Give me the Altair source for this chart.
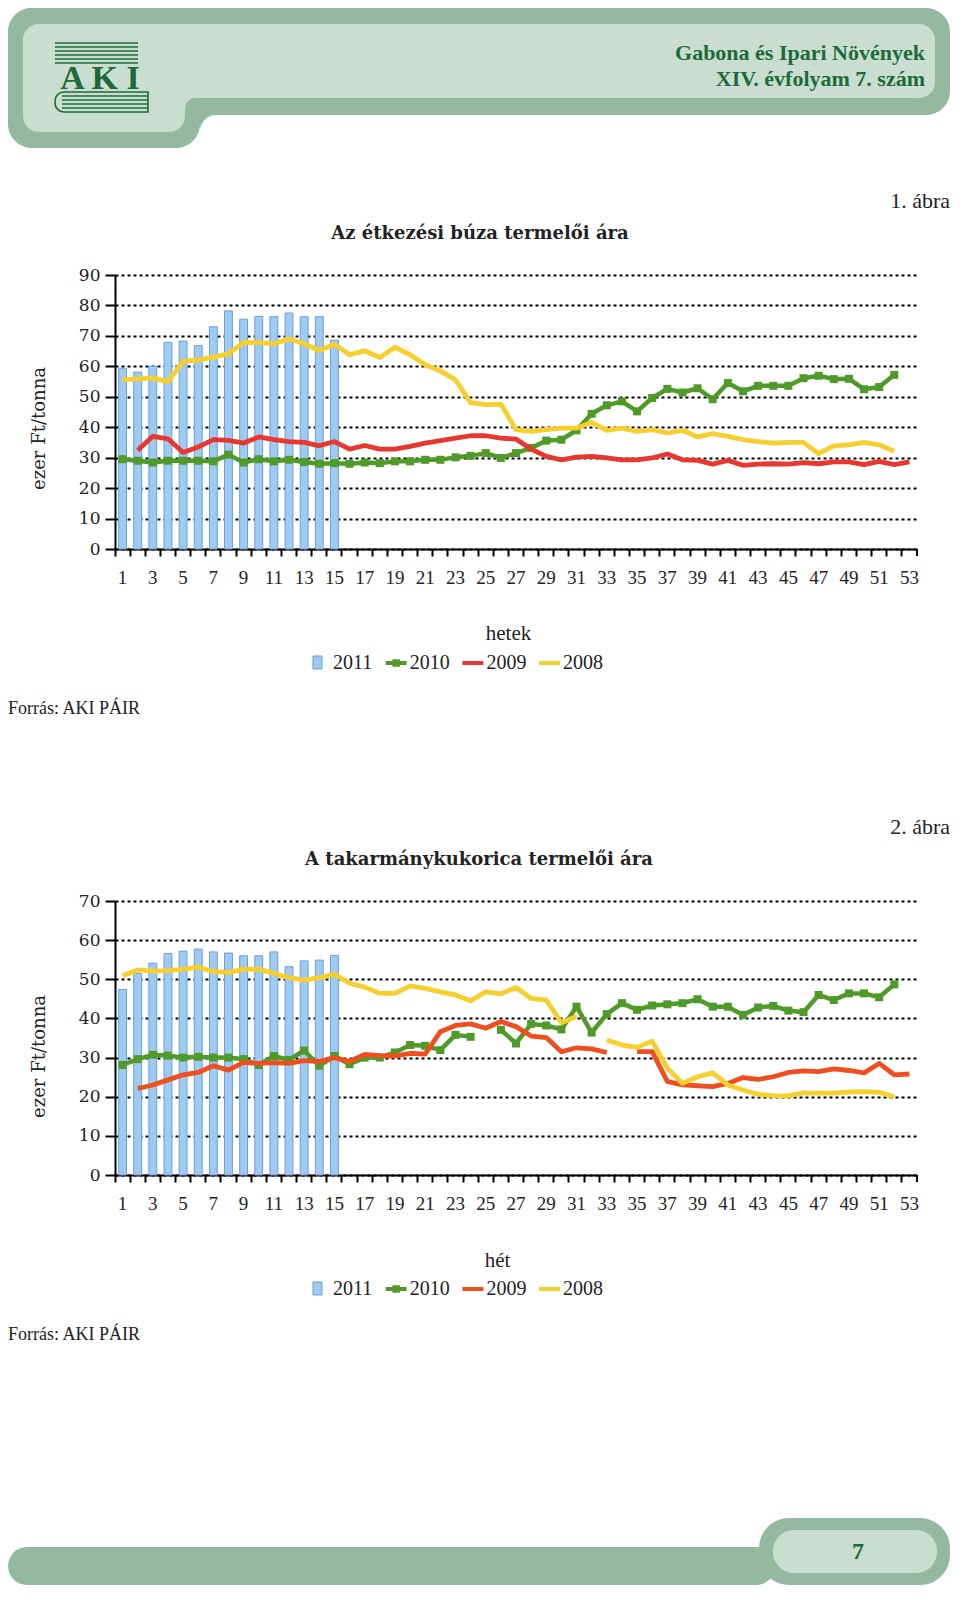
import altair as alt
import pandas as pd

WEEKS = list(range(1, 54))
LEGEND_LABELS = ["2011", "2010", "2009", "2008"]

# --- Chart 1: Az étkezési búza termelői ára (ezer Ft/tonna) ---
wheat_2011 = [59.4, 58.1, 60.0, 67.9, 68.3, 66.8, 73.0, 78.2, 75.5, 76.4, 76.3, 77.5, 76.3, 76.3, 68.6]
wheat_2010 = [29.5, 29.0, 28.4, 29.0, 29.0, 29.0, 28.8, 31.0, 28.4, 29.5,
              28.8, 29.3, 28.6, 28.0, 28.2, 28.0, 28.4, 28.2, 28.8, 28.8,
              29.3, 29.3, 30.1, 30.6, 31.5, 29.9, 31.5, 33.2, 35.6, 35.9,
              39.0, 44.4, 47.2, 48.5, 45.2, 49.6, 52.6, 51.4, 52.8, 49.2,
              54.5, 51.8, 53.6, 53.6, 53.6, 56.1, 56.9, 55.8, 55.9, 52.5,
              53.2, 57.2]
wheat_2009 = [None, 32.4, 37.0, 36.2, 31.7, 33.5, 35.9, 35.7, 34.8, 36.8,
              35.9, 35.3, 35.0, 33.9, 35.3, 32.8, 34.0, 32.8, 32.8, 33.7,
              34.8, 35.6, 36.4, 37.2, 37.2, 36.4, 36.1, 32.8, 30.4, 29.3,
              30.2, 30.4, 29.9, 29.3, 29.3, 29.9, 31.2, 29.3, 29.1, 27.9,
              29.1, 27.5, 27.9, 28.0, 27.9, 28.4, 28.0, 28.6, 28.6, 27.7,
              28.8, 27.7, 28.6]
wheat_2008 = [55.6, 55.9, 56.1, 55.0, 61.6, 62.1, 63.0, 64.1, 67.9, 67.8,
              67.4, 69.0, 67.4, 65.2, 67.3, 63.8, 65.1, 62.9, 66.3, 63.8,
              60.5, 58.5, 55.6, 48.1, 47.4, 47.6, 39.2, 38.6, 39.2, 39.7,
              39.7, 41.6, 39.0, 39.7, 38.6, 39.2, 38.1, 39.0, 36.8, 37.9,
              37.0, 35.9, 35.3, 34.8, 35.0, 35.0, 31.3, 33.9, 34.2, 35.0,
              34.2, 32.1]

# --- Chart 2: A takarmánykukorica termelői ára (ezer Ft/tonna) ---
corn_2011 = [47.4, 51.5, 54.1, 56.6, 57.2, 57.7, 57.0, 56.7, 56.0, 56.0, 57.0, 53.2, 54.7, 54.9, 56.1]
corn_2010 = [28.1, 29.6, 30.7, 30.5, 30.0, 30.2, 30.0, 30.0, 29.6, 28.1,
             30.4, 29.4, 31.8, 27.9, 30.4, 28.3, 30.0, 30.0, 31.3, 33.2,
             33.0, 31.9, 35.8, 35.3, None, 37.1, 33.6, 38.6, 38.2, 37.2,
             43.0, 36.4, 41.1, 43.9, 42.2, 43.3, 43.6, 43.9, 44.9, 43.0,
             43.0, 40.9, 42.8, 43.2, 42.0, 41.6, 46.0, 44.7, 46.4, 46.4,
             45.4, 48.7]
corn_2009 = [None, 22.1, 23.0, 24.3, 25.6, 26.2, 27.9, 26.8, 28.8, 28.5,
             28.7, 28.5, 29.2, 29.0, 30.0, 29.0, 30.8, 30.5, 30.4, 31.1,
             30.9, 36.6, 38.2, 38.6, 37.5, 39.2, 37.9, 35.5, 35.1, 31.5,
             32.5, 32.2, 31.3, None, 31.5, 31.5, 23.9, 23.0, 22.8, 22.6,
             23.4, 24.9, 24.4, 25.1, 26.2, 26.6, 26.4, 27.1, 26.7, 26.1,
             28.5, 25.6, 25.8]
corn_2008 = [50.9, 52.4, 52.1, 52.2, 52.6, 53.1, 52.0, 51.7, 52.6, 52.6,
             51.5, 50.4, 49.8, 50.4, 51.3, 49.0, 48.0, 46.4, 46.4, 48.3,
             47.7, 46.8, 46.0, 44.5, 46.8, 46.3, 47.9, 45.1, 44.7, 38.9,
             40.5, None, 34.5, 33.2, 32.6, 34.2, 27.3, 23.4, 25.1, 26.1,
             23.0, 21.7, 20.6, 20.3, 20.2, 21.0, 20.9, 20.9, 21.2, 21.3,
             21.1, 20.0]

BLUE = "#9fcaf2"
BLUE_EDGE = "#6c9fd3"
GREEN = "#4f9a28"
YELLOW = "#f6cf2e"
RED1 = "#e8372f"
RED2 = "#ef4f1f"
OUTER = "#95b9a0"
INNER = "#c9ddd0"
DARKGREEN = "#1d6b3b"
TEXT = "#222222"
SERIF = "Liberation Serif"
PALA = "DejaVu Serif"
W, H = 802, 274


def one():
    return alt.Data(values=[{"k": 1}])


def rect(x, x2, y, y2, color, r=0):
    return alt.Chart(one()).mark_rect(color=color, cornerRadius=r).encode(
        x=alt.value(x), x2=alt.value(x2), y=alt.value(y), y2=alt.value(y2))


def hline(x, x2, y, color, w):
    return alt.Chart(one()).mark_rule(color=color, strokeWidth=w).encode(
        x=alt.value(x), x2=alt.value(x2), y=alt.value(y))


def circle(x, y, diameter, color):
    return alt.Chart(one()).mark_circle(size=diameter * diameter, color=color, opacity=1).encode(
        x=alt.value(x), y=alt.value(y))


def label(txt, x, y, size, font=SERIF, weight="normal", align="left", color=TEXT):
    return alt.Chart(alt.Data(values=[{"t": txt}])).mark_text(
        align=align, baseline="middle", font=font, fontSize=size,
        fontWeight=weight, color=color).encode(x=alt.value(x), y=alt.value(y), text="t:N")


def seg_df(vals, name):
    rows, seg = [], 0
    for i, v in enumerate(vals):
        if v is None:
            seg += 1
            continue
        rows.append({"week": i + 1, "value": v, "seg": f"{name}-{seg}"})
    return pd.DataFrame(rows)


def make_panel(bars, s10, s09, s08, ymax, red, ytitle_y, xtitle, xtitle_x, xtitle_y, back, front):
    xscale = alt.Scale(domain=WEEKS, paddingInner=0, paddingOuter=0)
    yscale = alt.Scale(domain=[0, ymax], nice=False, zero=True)
    xaxis = alt.Axis(
        title=xtitle, titleX=xtitle_x, titleY=xtitle_y, titleAlign="center",
        titleBaseline="middle", titleFont=SERIF, titleFontSize=21,
        titleFontWeight="normal", titleColor=TEXT,
        bandPosition=0, labelAngle=0,
        labelExpr="datum.value % 2 == 1 ? datum.label : ''",
        labelOverlap=False, labelFont=SERIF, labelFontSize=19, labelColor=TEXT,
        labelPadding=12, tickSize=7, tickWidth=2, tickColor="black",
        domainColor="black", domainWidth=2, grid=False)
    yaxis = alt.Axis(
        title="ezer Ft/tonna", titleX=-76, titleY=ytitle_y, titleAngle=270,
        titleAlign="center", titleBaseline="middle", titleFont=PALA,
        titleFontSize=18, titleFontWeight="normal", titleColor=TEXT,
        values=list(range(0, ymax + 1, 10)), labelOverlap=False,
        labelFont=PALA, labelFontSize=17,
        labelColor=TEXT, labelPadding=5, tickSize=10, tickWidth=2,
        tickColor="black", domainColor="black", domainWidth=2,
        grid=True, gridColor="black", gridDash=[3, 3], gridWidth=2)

    X = alt.X("week:O", scale=xscale, axis=xaxis)
    Y = alt.Y("value:Q", scale=yscale, axis=yaxis)

    bar_df = pd.DataFrame({"week": WEEKS[:len(bars)], "value": bars})
    bar_layer = alt.Chart(bar_df).mark_bar(
        width=alt.RelativeBandSize(band=0.52), fill=BLUE, stroke=BLUE_EDGE,
        strokeWidth=1).encode(x=X, y=Y)

    def line(vals, name, color, w):
        return alt.Chart(seg_df(vals, name)).mark_line(
            color=color, strokeWidth=w, strokeJoin="round").encode(
            x=X, y=Y, detail="seg:N")

    l10 = line(s10, "2010", GREEN, 4.5)
    p10 = alt.Chart(seg_df(s10, "2010")).mark_square(
        size=64, color=GREEN, opacity=1).encode(x=X, y=Y)
    l09 = line(s09, "2009", red, 4.8)
    l08 = line(s08, "2008", YELLOW, 4.8)

    end_tick = alt.Chart(one()).mark_rule(color="black", strokeWidth=2).encode(
        x=alt.value(W), y=alt.value(H), y2=alt.value(H + 7))

    leg = pd.DataFrame({"label": LEGEND_LABELS, "color": [BLUE, GREEN, red, YELLOW]})
    leg["tx"] = 218 + leg.index * 76.7
    leg["sx1"] = leg["tx"] - 24
    leg["sx2"] = leg["tx"] - 3
    leg["sxm"] = leg["tx"] - 13.5
    leg["rx1"] = leg["tx"] - 20
    leg["rx2"] = leg["tx"] - 11
    ly = 388
    leg_rect = alt.Chart(leg.iloc[:1]).mark_rect(
        fill=BLUE, stroke=BLUE_EDGE, strokeWidth=1).encode(
        x=alt.X("rx1:Q", scale=None, axis=None), x2="rx2:Q",
        y=alt.value(ly - 7), y2=alt.value(ly + 6))
    leg_lines = alt.Chart(leg.iloc[1:]).mark_rule(strokeWidth=4).encode(
        x=alt.X("sx1:Q", scale=None, axis=None), x2="sx2:Q",
        y=alt.value(ly), color=alt.Color("color:N", scale=None))
    leg_pt = alt.Chart(leg.iloc[1:2]).mark_square(size=56, color=GREEN, opacity=1).encode(
        x=alt.X("sxm:Q", scale=None, axis=None), y=alt.value(ly))
    leg_text = alt.Chart(leg).mark_text(
        align="left", baseline="middle", font=SERIF, fontSize=20, color=TEXT).encode(
        x=alt.X("tx:Q", scale=None, axis=None), y=alt.value(ly), text="label:N")

    layers = back + [bar_layer, l10, p10, l09, l08, end_tick,
                     leg_rect, leg_lines, leg_pt, leg_text] + front
    return alt.layer(*layers).properties(width=W, height=H)


# Panel 1 decorations (coordinates relative to plot origin)
header = [
    rect(-107, 835, -267, -160, OUTER, 24),
    rect(-107, 85, -267, -127, OUTER, 24),
    rect(85, 101, -160, -144, OUTER),
    circle(101, -144, 32, "white"),
    rect(-92, 820, -251, -177, INNER, 16),
    rect(-92, 70, -251, -143, INNER, 16),
    rect(70, 80, -177, -167, INNER),
    circle(80, -167, 20, OUTER),
]
logo = [hline(-60, 23, y, DARKGREEN, 1.6) for y in (-232, -228, -224, -220, -216, -212)]
logo += [alt.Chart(one()).mark_rect(
    fill=None, stroke=DARKGREEN, strokeWidth=1.6,
    cornerRadiusTopLeft=9, cornerRadiusBottomLeft=9).encode(
    x=alt.value(-60), x2=alt.value(33), y=alt.value(-183), y2=alt.value(-163))]
logo += [hline(-53, 33, y, DARKGREEN, 1.4) for y in (-179, -175, -171, -167)]
logo += [label("A K I", -15, -196, 34, weight="bold", align="center", color=DARKGREEN)]
texts1 = [
    label("Gabona és Ipari Növények", 810, -222, 22, weight="bold", align="right", color=DARKGREEN),
    label("XIV. évfolyam 7. szám", 810, -196, 22, weight="bold", align="right", color=DARKGREEN),
    label("1. ábra", 835, -74, 22, align="right"),
    label("Az étkezési búza termelői ára", 365, -41, 18, font=PALA, weight="bold", align="center"),
    label("Forrás: AKI PÁIR", -107, 434, 18),
]

texts2 = [
    label("2. ábra", 835, -74, 22, align="right"),
    label("A takarmánykukorica termelői ára", 364, -41, 18, font=PALA, weight="bold", align="center"),
    label("Forrás: AKI PÁIR", -107, 434, 18),
]
footer = [
    rect(-107, 660, 646, 684, OUTER, 19),
    rect(644, 835, 617, 684, OUTER, 30),
    rect(658, 822, 629, 672, INNER, 21),
    label("7", 743, 651, 24, weight="bold", align="center", color=DARKGREEN),
]

p1 = make_panel(wheat_2011, wheat_2010, wheat_2009, wheat_2008, 90, RED1,
                153, "hetek", 393, 84, header + logo + texts1, [])
p2 = make_panel(corn_2011, corn_2010, corn_2009, corn_2008, 70, RED2,
                155, "hét", 382, 85, texts2 + footer, [])

chart = alt.vconcat(p1, p2, spacing=352, bounds="flush").properties(
    padding=0, background="white").configure_view(stroke=None)

chart.save("out.html", embed_options={"renderer": "svg", "actions": False})
